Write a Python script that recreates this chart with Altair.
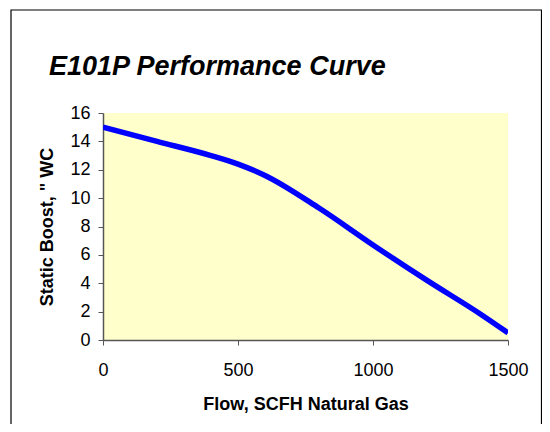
import altair as alt
import pandas as pd

flow = [0, 200, 400, 500, 600, 800, 1000, 1200, 1400, 1500]
boost = [15.0, 14.0, 13.0, 12.4, 11.6, 9.3, 6.7, 4.2, 1.8, 0.5]
title_text = ["E101P Performance Curve"]

df = pd.DataFrame({"flow": flow, "boost": boost})
tdf = pd.DataFrame({"t": title_text})

FONT = "Liberation Sans"

line = alt.Chart(df).mark_line(
    color="#0000FF", strokeWidth=5.5, interpolate="monotone", clip=True
).encode(
    x=alt.X("flow:Q", scale=alt.Scale(domain=[0, 1500], nice=False),
            axis=alt.Axis(values=[0, 500, 1000, 1500], format="d", title="Flow, SCFH Natural Gas",
                          grid=False, labelPadding=16, titlePadding=16, labelFlush=False)),
    y=alt.Y("boost:Q", scale=alt.Scale(domain=[0, 16], nice=False),
            axis=alt.Axis(values=list(range(0, 17, 2)), title="Static Boost, \" WC",
                          grid=False, labelPadding=8, titlePadding=13, labelFlush=False)),
)

frame = alt.Chart(tdf).mark_rect(
    fill=None, stroke="#000000", strokeWidth=1.2, clip=False
).encode(
    x=alt.value(-92), x2=alt.value(438.5), y=alt.value(-103), y2=alt.value(340)
)

title = alt.Chart(tdf).mark_text(
    align="left", baseline="alphabetic", font=FONT, fontSize=27,
    fontWeight="bold", fontStyle="italic", color="#000000", clip=False
).encode(
    x=alt.value(-54), y=alt.value(-38), text="t:N"
)

chart = alt.layer(frame, line, title).properties(
    width=405, height=227,
    padding={"left": 95, "top": 105, "right": 34, "bottom": 84},
    autosize=alt.AutoSizeParams(type="none"),
    background="#FFFFFF",
).configure_view(
    fill="#FFFFCC", stroke=None
).configure_axis(
    labelFont=FONT, labelFontSize=18, labelColor="#000000",
    titleFont=FONT, titleFontSize=18, titleFontWeight="bold", titleColor="#000000",
    domainColor="#555555", tickColor="#555555", tickSize=5, domainWidth=1.5,
)

chart.save("out.html", embed_options={"renderer": "svg", "actions": False})
